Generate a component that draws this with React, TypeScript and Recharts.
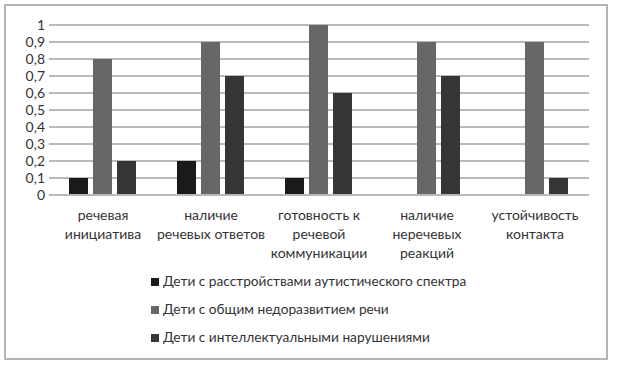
import { Bar, BarChart, CartesianGrid, Legend, XAxis, YAxis } from "recharts"

const categories = [
  "речевая\nинициатива",
  "наличие\nречевых ответов",
  "готовность к\nречевой\nкоммуникации",
  "наличие\nнеречевых\nреакций",
  "устойчивость\nконтакта",
]
const autism = [0.1, 0.2, 0.1, 0, 0]
const speech = [0.8, 0.9, 1, 0.9, 0.9]
const intellect = [0.2, 0.7, 0.6, 0.7, 0.1]
const yTicks = [0, 0.1, 0.2, 0.3, 0.4, 0.5, 0.6, 0.7, 0.8, 0.9, 1]

const series = [
  { key: "autism", name: "Дети с расстройствами аутистического спектра", color: "#1a1a1a" },
  { key: "speech", name: "Дети с общим недоразвитием речи", color: "#676767" },
  { key: "intellect", name: "Дети с интеллектуальными нарушениями", color: "#353535" },
]

const data = categories.map((c, i) => ({
  name: c,
  autism: autism[i],
  speech: speech[i],
  intellect: intellect[i],
}))

const FONT = "Lato, 'Open Sans', sans-serif"
const TEXT = "#333333"

function CategoryTick(props: any) {
  const { x, y, payload } = props
  const lines = String(payload.value).split("\n")
  return (
    <text x={x} y={y} textAnchor="middle" fill={TEXT} fontSize={14} fontFamily={FONT}>
      {lines.map((l, i) => (
        <tspan key={i} x={x} y={y + 17 + i * 19}>
          {l}
        </tspan>
      ))}
    </text>
  )
}

function LegendBox() {
  return (
    <div style={{ fontFamily: FONT, fontSize: 13.7, color: TEXT }}>
      {series.map((s) => (
        <div key={s.key} style={{ height: 28, lineHeight: "28px", whiteSpace: "nowrap" }}>
          <span
            style={{
              display: "inline-block",
              width: 8,
              height: 8,
              background: s.color,
              marginRight: 4,
            }}
          />
          {s.name}
        </div>
      ))}
    </div>
  )
}

export default function App() {
  return (
    <div
      style={{
        position: "absolute",
        left: 4,
        top: 4,
        width: 600,
        height: 352,
        border: "2px solid #b5b5b5",
        background: "#fff",
      }}
    >
      <BarChart
        width={600}
        height={352}
        data={data}
        margin={{ top: 19, right: 17, left: 8, bottom: 83 }}
        barCategoryGap={20}
        barGap={5}
      >
        <CartesianGrid vertical={false} stroke="#b9b9b9" strokeWidth={2} />
        <XAxis
          dataKey="name"
          interval={0}
          tickLine={false}
          axisLine={{ stroke: "#b9b9b9", strokeWidth: 2 }}
          height={80}
          tick={<CategoryTick />}
        />
        <YAxis
          domain={[0, 1]}
          ticks={yTicks}
          interval={0}
          width={35}
          axisLine={false}
          tickLine={false}
          tickSize={0}
          tickMargin={4}
          tickFormatter={(v: number) => String(v).replace(".", ",")}
          tick={{ fill: TEXT, fontSize: 14, fontFamily: FONT }}
        />
        <Legend
          layout="vertical"
          align="center"
          verticalAlign="middle"
          wrapperStyle={{ left: 145, top: 261, width: "auto" }}
          content={<LegendBox />}
        />
        {series.map((s) => (
          <Bar key={s.key} dataKey={s.key} name={s.name} fill={s.color} isAnimationActive={false} />
        ))}
      </BarChart>
    </div>
  )
}
